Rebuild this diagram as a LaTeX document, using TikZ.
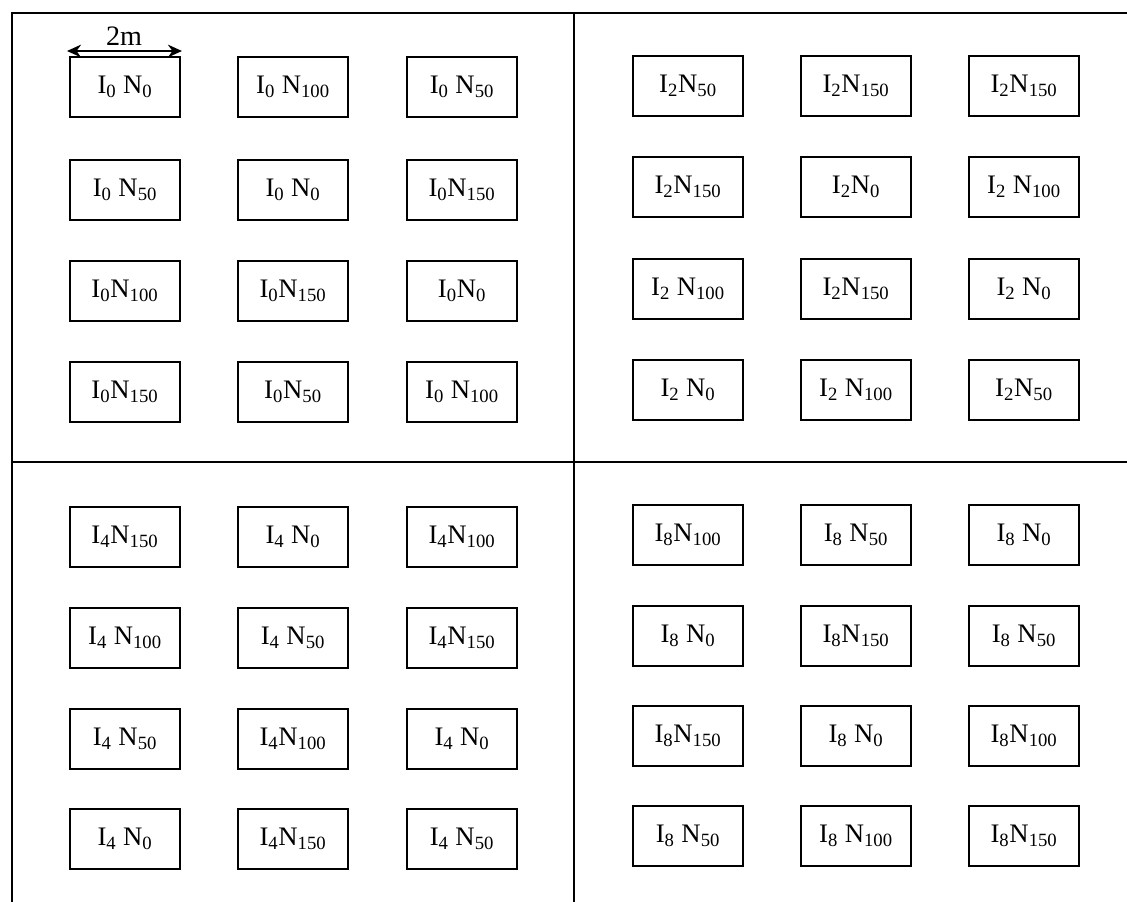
\documentclass[tikz,border=0pt]{standalone}
\usepackage{fontspec}
\setmainfont{Liberation Serif}
\usepackage{tikz}
\usetikzlibrary{arrows.meta}
\newcommand{\Isub}[1]{I\textsubscript{#1}}
\newcommand{\Nsub}[1]{N\textsubscript{#1}}

\begin{document}
\begin{tikzpicture}[x=0.025cm,y=-0.025cm,
  plot/.style={draw,line width=1.3pt,minimum width=2.75cm,minimum height=1.48cm,inner sep=0pt,
    font=\fontsize{19}{20}\selectfont}]
\useasboundingbox (0,0) rectangle (1127,902);
% field borders
\draw[line width=1.2pt] (1127,13)--(12,13)--(12,902);
\draw[line width=1.2pt] (574,13)--(574,902);
\draw[line width=1.2pt] (12,462)--(1127,462);
% plot width
\coordinate (wl) at (67,51);
\coordinate (wr) at (182,51);
\draw[line width=1.5pt,{Stealth[length=10pt,width=9pt]}-{Stealth[length=10pt,width=9pt]}] (wl)--(wr);
\node[font=\fontsize{20}{20}\selectfont] (wlab) at (124,36) {2m};
% I0
\node[plot] (a11) at (125,87) {\Isub{0} \Nsub{0}};
\node[plot] (a12) at (293,87) {\Isub{0} \Nsub{100}};
\node[plot] (a13) at (462,87) {\Isub{0} \Nsub{50}};
\node[plot] (a21) at (125,190) {\Isub{0} \Nsub{50}};
\node[plot] (a22) at (293,190) {\Isub{0} \Nsub{0}};
\node[plot] (a23) at (462,190) {\Isub{0}\Nsub{150}};
\node[plot] (a31) at (125,291) {\Isub{0}\Nsub{100}};
\node[plot] (a32) at (293,291) {\Isub{0}\Nsub{150}};
\node[plot] (a33) at (462,291) {\Isub{0}\Nsub{0}};
\node[plot] (a41) at (125,392) {\Isub{0}\Nsub{150}};
\node[plot] (a42) at (293,392) {\Isub{0}\Nsub{50}};
\node[plot] (a43) at (462,392) {\Isub{0} \Nsub{100}};
% I2
\node[plot] (b11) at (688,86) {\Isub{2}\Nsub{50}};
\node[plot] (b12) at (856,86) {\Isub{2}\Nsub{150}};
\node[plot] (b13) at (1024,86) {\Isub{2}\Nsub{150}};
\node[plot] (b21) at (688,187) {\Isub{2}\Nsub{150}};
\node[plot] (b22) at (856,187) {\Isub{2}\Nsub{0}};
\node[plot] (b23) at (1024,187) {\Isub{2} \Nsub{100}};
\node[plot] (b31) at (688,289) {\Isub{2} \Nsub{100}};
\node[plot] (b32) at (856,289) {\Isub{2}\Nsub{150}};
\node[plot] (b33) at (1024,289) {\Isub{2} \Nsub{0}};
\node[plot] (b41) at (688,390) {\Isub{2} \Nsub{0}};
\node[plot] (b42) at (856,390) {\Isub{2} \Nsub{100}};
\node[plot] (b43) at (1024,390) {\Isub{2}\Nsub{50}};
% I4
\node[plot] (c11) at (125,537) {\Isub{4}\Nsub{150}};
\node[plot] (c12) at (293,537) {\Isub{4} \Nsub{0}};
\node[plot] (c13) at (462,537) {\Isub{4}\Nsub{100}};
\node[plot] (c21) at (125,638) {\Isub{4} \Nsub{100}};
\node[plot] (c22) at (293,638) {\Isub{4} \Nsub{50}};
\node[plot] (c23) at (462,638) {\Isub{4}\Nsub{150}};
\node[plot] (c31) at (125,739) {\Isub{4} \Nsub{50}};
\node[plot] (c32) at (293,739) {\Isub{4}\Nsub{100}};
\node[plot] (c33) at (462,739) {\Isub{4} \Nsub{0}};
\node[plot] (c41) at (125,839) {\Isub{4} \Nsub{0}};
\node[plot] (c42) at (293,839) {\Isub{4}\Nsub{150}};
\node[plot] (c43) at (462,839) {\Isub{4} \Nsub{50}};
% I8
\node[plot] (d11) at (688,535) {\Isub{8}\Nsub{100}};
\node[plot] (d12) at (856,535) {\Isub{8} \Nsub{50}};
\node[plot] (d13) at (1024,535) {\Isub{8} \Nsub{0}};
\node[plot] (d21) at (688,636) {\Isub{8} \Nsub{0}};
\node[plot] (d22) at (856,636) {\Isub{8}\Nsub{150}};
\node[plot] (d23) at (1024,636) {\Isub{8} \Nsub{50}};
\node[plot] (d31) at (688,736) {\Isub{8}\Nsub{150}};
\node[plot] (d32) at (856,736) {\Isub{8} \Nsub{0}};
\node[plot] (d33) at (1024,736) {\Isub{8}\Nsub{100}};
\node[plot] (d41) at (688,836) {\Isub{8} \Nsub{50}};
\node[plot] (d42) at (856,836) {\Isub{8} \Nsub{100}};
\node[plot] (d43) at (1024,836) {\Isub{8}\Nsub{150}};
\end{tikzpicture}
\end{document}
